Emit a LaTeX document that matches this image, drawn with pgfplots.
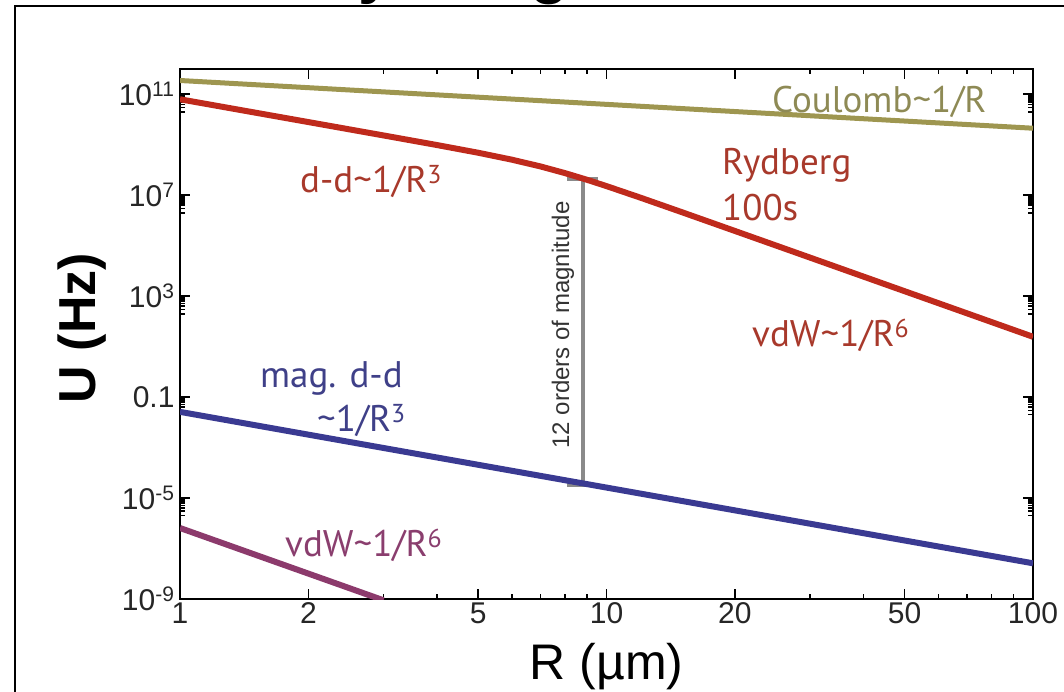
\documentclass[border=0pt]{standalone}
\usepackage{pgfplots}
\pgfplotsset{compat=1.18}
\usepackage{fontspec}
\setmainfont{Liberation Sans}
\newfontfamily\lblfont{PT Sans}
\definecolor{coul}{HTML}{9E9650}
\definecolor{ryd}{HTML}{BF2A1C}
\definecolor{mag}{HTML}{3A3A92}
\definecolor{pvdw}{HTML}{8C3A6C}
\definecolor{coultext}{HTML}{8E8A55}
\definecolor{rydtext}{HTML}{A8392B}
\definecolor{magtext}{HTML}{3F4088}
\definecolor{pvdwtext}{HTML}{8A3E6E}
\definecolor{bargray}{HTML}{8A8A8A}
\begin{document}
\begin{tikzpicture}[x=1pt,y=1pt]
\path[use as bounding box] (0,0) rectangle (1064,692);
\node[anchor=base west, inner sep=0, font=\fontsize{63}{63}\selectfont\bfseries] at (313,700) {Rydberg};
\draw[line width=2pt] (15,-10) -- (15,686) -- (1080,686);
\begin{axis}[
  at={(180pt,93pt)}, anchor=south west, scale only axis,
  width=853pt, height=530pt,
  xmode=log, ymode=log, xmin=1, xmax=100, ymin=1e-9, ymax=1e12,
  axis line style={line width=2pt},
  xtick={1,2,5,10,20,50,100}, xticklabels={1,2,5,10,20,50,100},
  minor xtick={3,4,6,7,8,9,30,40,60,70,80,90},
  ytick={1e-9,1e-5,1e-1,1e3,1e7,1e11},
  yticklabels={10\textsuperscript{-9},10\textsuperscript{-5},0.1,10\textsuperscript{3},10\textsuperscript{7},10\textsuperscript{11}},
  minor ytick={2e10,3e10,4e10,5e10,6e10,7e10,8e10,9e10,2e6,3e6,4e6,5e6,6e6,7e6,8e6,9e6,2e2,3e2,4e2,5e2,6e2,7e2,8e2,9e2,2e-2,3e-2,4e-2,5e-2,6e-2,7e-2,8e-2,9e-2,2e-6,3e-6,4e-6,5e-6,6e-6,7e-6,8e-6,9e-6},
  tick align=inside, major tick length=10pt, minor tick length=5pt,
  every tick/.style={line width=1.5pt, black},
  tick label style={font=\fontsize{30}{30}\selectfont, text=black!85},
  yticklabel style={xshift=-2pt},
  xlabel={R (µm)}, ylabel={U (Hz)},
  xlabel style={font=\fontsize{50}{50}\selectfont, at={(axis description cs:0.5,-0.128)}, anchor=center},
  ylabel style={font=\fontsize{52}{52}\selectfont\bfseries, at={(axis description cs:-0.115,0.511)}, anchor=center},
]
\addplot[coul, line width=5pt] coordinates {(1,3.5e11) (100,4.5e9)};
\addplot[bargray, line width=4pt] coordinates {(8.81,4.4e7) (8.81,3.3e-5)};
\draw[bargray, line width=4pt] ([xshift=-16pt]axis cs:8.81,4.4e7) -- ([xshift=15pt]axis cs:8.81,4.4e7);
\draw[bargray, line width=4pt] ([xshift=-16pt]axis cs:8.81,3.3e-5) -- ([xshift=15pt]axis cs:8.81,3.3e-5);
\addplot[ryd, line width=6pt, line join=round] coordinates {
 (1,6.31e10) (1.5,1.87e10) (2,7.89e9) (3,2.33e9) (4,9.73e8) (5,4.81e8)
 (6,2.55e8) (7,1.38e8) (8,7.46e7) (9,4.08e7) (10,2.29e7) (12,8.02e6)
 (15,2.14e6) (20,3.83e5) (30,3.37e4) (50,1.57e3) (70,2.09e2) (100,24.5)};
\addplot[mag, line width=6pt] coordinates {(1,2.6e-2) (100,2.6e-8)};
\addplot[pvdw, line width=6pt] coordinates {(1,6.5e-7) (3,8.9e-10)};
\end{axis}
\begin{scope}[every node/.style={anchor=base west, inner sep=0, font=\lblfont\fontsize{37}{37}\selectfont}]
\node[text=coultext] at (772,579) {Coulomb\char`~1/R};
\node[text=rydtext] at (300,499) {d-d\char`~1/R\textsuperscript{3}};
\node[text=rydtext] at (722,517) {Rydberg};
\node[text=rydtext] at (722,471) {100s};
\node[text=rydtext] at (752,345) {vdW\char`~1/R\textsuperscript{6}};
\node[text=magtext] at (260,304) {mag. d-d};
\node[text=magtext] at (317,260) {\char`~1/R\textsuperscript{3}};
\node[text=pvdwtext] at (285,135) {vdW\char`~1/R\textsuperscript{6}};
\end{scope}
\node[rotate=90, anchor=center, inner sep=0, text=black!80, font=\fontsize{24}{24}\selectfont] at (563,367) {12 orders of magnitude};
\end{tikzpicture}
\end{document}
